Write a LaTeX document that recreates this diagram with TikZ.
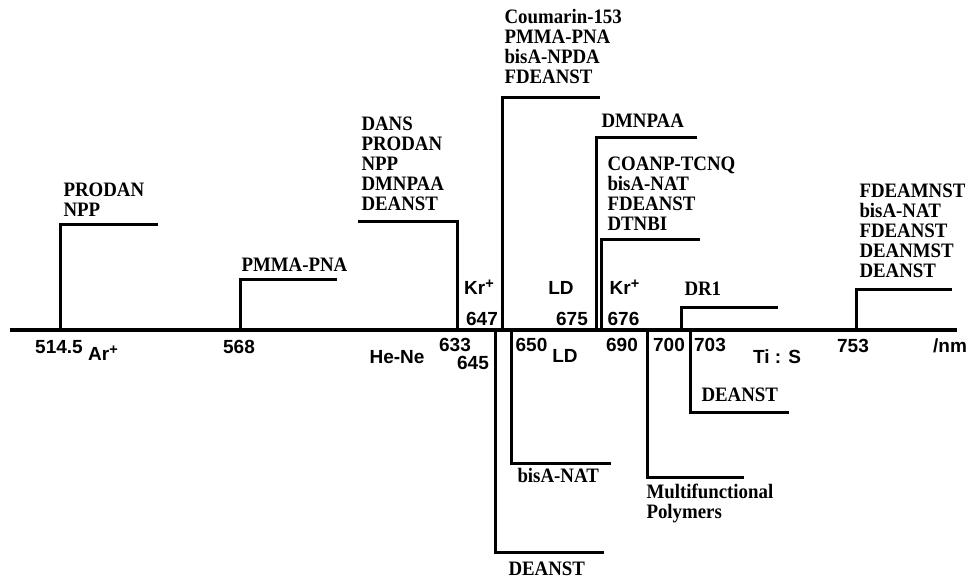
\documentclass[tikz,border=0pt]{standalone}
\usepackage{fontspec}
\setmainfont{Liberation Serif}[FakeStretch=0.92]
\setsansfont{Liberation Sans}
\newcommand{\plussup}{\raisebox{6.5pt}{\fontsize{14.5}{14.5}\selectfont +}}
\begin{document}
\begin{tikzpicture}[x=1pt,y=-1pt, line width=3pt, line join=miter,
  cmpd/.style={font=\fontsize{20.5}{20}\selectfont\bfseries, align=left, anchor=south west, inner sep=0pt, text depth=0pt},
  lbl/.style={font=\sffamily\bfseries\fontsize{19}{21}\selectfont, inner sep=0pt, text height=13.6pt, text depth=0pt, anchor=center}]
\useasboundingbox (0,0) rectangle (971,584);
% axis
\coordinate (a0) at (10,330); \coordinate (a1) at (957,330);
\draw[line width=3.5pt] (a0) -- (a1);
% markers
\coordinate (m514) at (60,330);    \coordinate (h514) at (158,224);
\coordinate (m568) at (240,330);   \coordinate (h568) at (337,279);
\coordinate (m633) at (457,330);   \coordinate (h633) at (358,221);
\coordinate (m645) at (495.5,330); \coordinate (h645) at (604,552);
\coordinate (m647) at (502,330);   \coordinate (h647) at (600,97);
\coordinate (m650) at (511.5,330); \coordinate (h650) at (611,463);
\coordinate (m675) at (596.5,330); \coordinate (h675) at (697,137);
\coordinate (m676) at (601.5,330); \coordinate (h676) at (700,239);
\coordinate (m690) at (647.5,330); \coordinate (h690) at (744,477);
\coordinate (m700) at (681,330);   \coordinate (h700) at (778,307);
\coordinate (m703) at (690,330);   \coordinate (h703) at (789,412);
\coordinate (m753) at (856,330);   \coordinate (h753) at (952,289);
\foreach \m in {514,568,633,645,647,650,675,676,690,700,703,753}
  \draw (m\m) |- (h\m);
% compound labels
\node[cmpd] (t514) at (62,218) {PRODAN\\NPP};
\node[cmpd] (t568) at (240,273) {PMMA-PNA};
\node[cmpd] (t633) at (360,212) {DANS\\PRODAN\\NPP\\DMNPAA\\DEANST};
\node[cmpd] (t647) at (503,85) {Coumarin-153\\PMMA-PNA\\bisA-NPDA\\FDEANST};
\node[cmpd] (t675) at (600,129) {DMNPAA};
\node[cmpd] (t676) at (606,232) {COANP-TCNQ\\bisA-NAT\\FDEANST\\DTNBI};
\node[cmpd] (t700) at (683,297) {DR1};
\node[cmpd] (t753) at (858,279) {FDEAMNST\\bisA-NAT\\FDEANST\\DEANMST\\DEANST};
\node[cmpd] (t703) at (700,403) {DEANST};
\node[cmpd] (t650) at (516,484) {bisA-NAT};
\node[cmpd] (t690) at (645,520) {Multifunctional\\Polymers};
\node[cmpd] (t645) at (507,577) {DEANST};
% wavelength and laser labels
\node[lbl] (n514) at (59,347) {514.5};
\node[lbl] (ar) at (103,354) {Ar\plussup};
\node[lbl] (n568) at (239,347) {568};
\node[lbl] (hene) at (397,357) {He-Ne};
\node[lbl] (n633) at (455,344.5) {633};
\node[lbl] (n645) at (473,362.5) {645};
\node[lbl] (kr1) at (479,288) {Kr\plussup};
\node[lbl] (n647) at (482,319) {647};
\node[lbl] (ld1) at (561,288) {LD};
\node[lbl] (n675) at (572,319) {675};
\node[lbl] (kr2) at (624.5,288) {Kr\plussup};
\node[lbl] (n676) at (623.5,319) {676};
\node[lbl] (n650) at (531.5,344.5) {650};
\node[lbl] (ld2) at (565,355.5) {LD};
\node[lbl] (n690) at (622,344.5) {690};
\node[lbl] (n700) at (669,344.5) {700};
\node[lbl] (n703) at (710,344.5) {703};
\node[lbl] (tis) at (777,357) {Ti : S};
\node[lbl] (n753) at (853,346) {753};
\node[lbl] (nm) at (950,346) {/nm};
\end{tikzpicture}
\end{document}
